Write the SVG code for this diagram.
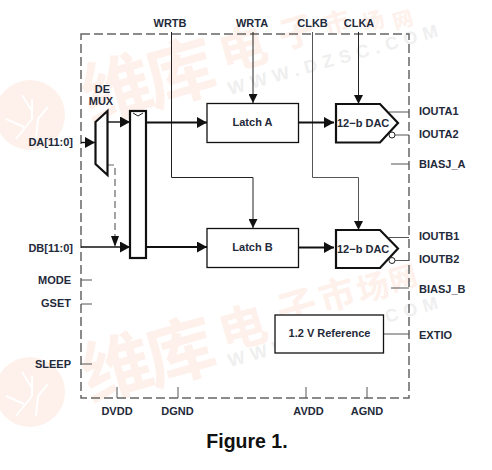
<svg xmlns="http://www.w3.org/2000/svg" width="492" height="470" viewBox="0 0 492 470">
<style>
text{font-family:"Liberation Sans",Arial,sans-serif;font-weight:700;font-size:11px;fill:#1f2a3a}
text.wm{font-family:"Noto Sans CJK SC","Liberation Sans",sans-serif;fill:#fef0ea;text-anchor:middle}
text.s70{font-size:70px}
text.s48{font-size:48px}
text.s40{font-size:40px}
text.s36{font-size:36px}
text.s32{font-size:32px}
text.s28{font-size:28px}
text.s26{font-size:26px}
text.s22{font-size:22px}
text.s20{font-size:20px}
text.ww{font-size:18px;fill:#efefef;letter-spacing:6px}
.logo{fill:#fef0ea}
.trace{fill:none;stroke:#fff;stroke-width:2}
.thin{fill:none;stroke:#222;stroke-width:1}
.gray{fill:none;stroke:#555;stroke-width:1}
.med{fill:none;stroke:#111;stroke-width:1.4}
.bold{fill:none;stroke:#111;stroke-width:2}
.dash{fill:none;stroke:#666;stroke-width:1.5;stroke-dasharray:9 4}
.box{fill:#fff;stroke:#111;stroke-width:1.3}
.blk{fill:#fff;stroke:#111;stroke-width:2.2}
</style>
<defs>
<marker id="big" markerUnits="userSpaceOnUse" markerWidth="11" markerHeight="11" refX="10" refY="5.5" orient="auto"><path d="M0 0L10 5.5L0 11Z" fill="#111"/></marker>
<marker id="small" markerUnits="userSpaceOnUse" markerWidth="10" markerHeight="9" refX="9" refY="4.500" orient="auto"><path d="M0 0L9 4.500L0 9Z" fill="#111"/></marker>
<g id="chip"><circle r="35" class="logo"/><path class="trace" d="M-14 24L2 4V-16M6 24L8 4L18 -8M-24 4L-6 12M-8 -20L2 -4"/></g>
</defs>
<g id="watermark">
<use href="#chip" x="30" y="115"/>
<use href="#chip" x="30" y="392"/>
<text class="wm s70" transform="translate(117 89) rotate(-16)" y="25">维</text>
<text class="wm s70" transform="translate(180 73) rotate(-16)" y="25">库</text>
<text class="wm s70" transform="translate(117 368) rotate(-16)" y="25">维</text>
<text class="wm s70" transform="translate(180 352) rotate(-16)" y="25">库</text>
<text class="wm s48" transform="translate(243 49) rotate(-16)" y="17">电</text>
<text class="wm s36" transform="translate(297 32) rotate(-16)" y="13">子</text>
<text class="wm s26" transform="translate(337 23) rotate(-16)" y="9">市</text>
<text class="wm s22" transform="translate(373 21) rotate(-16)" y="8">场</text>
<text class="wm s20" transform="translate(403 20) rotate(-16)" y="7">网</text>
<text class="wm s48" transform="translate(243 328) rotate(-16)" y="17">电</text>
<text class="wm s40" transform="translate(297 308) rotate(-16)" y="14">子</text>
<text class="wm s36" transform="translate(337 295) rotate(-16)" y="13">市</text>
<text class="wm s32" transform="translate(373 288) rotate(-16)" y="11">场</text>
<text class="wm s28" transform="translate(403 278) rotate(-16)" y="10">网</text>
<text class="ww" transform="translate(230 95) rotate(-15.700)">WWW.DZSC.COM</text>
<text class="ww" transform="translate(230 367) rotate(-15.700)">WWW.DZSC.COM</text>
</g>
<rect id="boundary" x="81" y="34" width="328" height="364" class="dash"/>
<g id="connectors">
<path class="thin" d="M171.500 32V177.500H253V228" marker-end="url(#small)"/>
<path class="thin" d="M253 32V103" marker-end="url(#small)"/>
<path class="gray" d="M312.500 32V177.500H358.500V230" marker-end="url(#small)"/>
<path class="thin" d="M358.500 32V104" marker-end="url(#small)"/>
<path class="med" d="M81 142.500H95" marker-end="url(#big)"/>
<path class="med" d="M107 122H130" marker-end="url(#big)"/>
<path class="bold" d="M146 122.500H207" marker-end="url(#big)"/>
<path class="bold" d="M298.500 122.500H334" marker-end="url(#big)"/>
<path class="med" d="M81 247H130" marker-end="url(#big)"/>
<path class="bold" d="M146 247H207" marker-end="url(#big)"/>
<path class="bold" d="M298.500 247.500H334" marker-end="url(#big)"/>
<path class="dash" style="stroke-width:1.200;stroke-dasharray:7 4" d="M107 165H115V237"/>
<path d="M111 236H119L115 247Z" fill="#111"/>
<path class="gray" d="M389 112H409M395 135H409M391 164H409M389 237.500H409M395 260.500H409M391 288H409M384 334H409M81 280H92M81 304H92M81 364H92M117 387V398M178 387V398M306 387V398M367 387V398"/>
</g>
<g id="demux"><path class="blk" d="M95.500 122L107.500 111V175L95.500 164Z"/><text x="102.500" y="92.500" text-anchor="middle">DE</text><text x="101" y="105" text-anchor="middle">MUX</text></g>
<g id="register"><rect class="blk" x="130" y="111" width="16" height="147"/><path class="thin" d="M133 113L138 116L143 113"/></g>
<g id="latch-a"><rect class="box" x="207" y="103.500" width="91.500" height="39"/><text x="252.500" y="126" text-anchor="middle">Latch A</text></g>
<g id="latch-b"><rect class="box" x="207" y="228.500" width="91.500" height="39"/><text x="252.500" y="251" text-anchor="middle">Latch B</text></g>
<g id="dac-a"><path class="blk" d="M336 104H380L398 123L380 142.500H336Z"/><circle cx="392" cy="135" r="3" fill="#fff" stroke="#222"/><text x="337" y="127">12−b DAC</text></g>
<g id="dac-b"><path class="blk" d="M336 230H380L398 248.500L380 268H336Z"/><circle cx="392" cy="260.500" r="3" fill="#fff" stroke="#222"/><text x="337" y="253">12−b DAC</text></g>
<g id="reference"><rect class="box" x="275" y="315" width="108.500" height="38"/><text x="329.500" y="337" text-anchor="middle">1.2 V Reference</text></g>
<g id="labels">
<text x="170" y="27" text-anchor="middle">WRTB</text>
<text x="252" y="27" text-anchor="middle">WRTA</text>
<text x="312.500" y="27" text-anchor="middle">CLKB</text>
<text x="359" y="27" text-anchor="middle">CLKA</text>
<text x="73" y="146" text-anchor="end">DA[11:0]</text>
<text x="73" y="252" text-anchor="end">DB[11:0]</text>
<text x="71" y="284" text-anchor="end">MODE</text>
<text x="71" y="307" text-anchor="end">GSET</text>
<text x="71" y="368" text-anchor="end">SLEEP</text>
<text x="419" y="115">IOUTA1</text>
<text x="419" y="138">IOUTA2</text>
<text x="419" y="168">BIASJ_A</text>
<text x="419" y="240">IOUTB1</text>
<text x="419" y="263">IOUTB2</text>
<text x="419" y="293">BIASJ_B</text>
<text x="419" y="339">EXTIO</text>
<text x="117" y="415" text-anchor="middle">DVDD</text>
<text x="177.500" y="415" text-anchor="middle">DGND</text>
<text x="308.500" y="415" text-anchor="middle">AVDD</text>
<text x="367" y="415" text-anchor="middle">AGND</text>
<text x="247" y="448" text-anchor="middle" style="font-size:19.500px;fill:#111">Figure 1.</text>
</g>
</svg>
